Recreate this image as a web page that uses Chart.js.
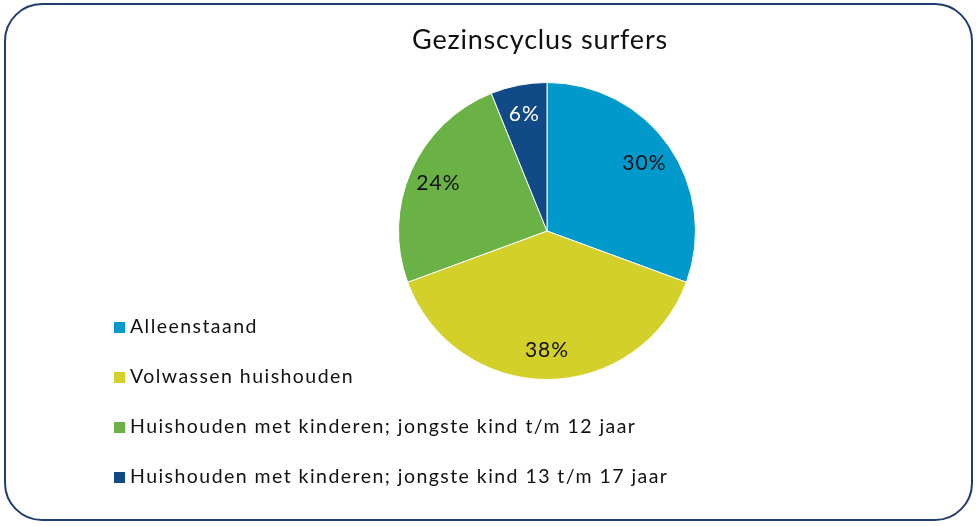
<!DOCTYPE html>
<html>
<head>
<meta charset="utf-8">
<script src="https://cdn.jsdelivr.net/npm/chart.js@4/dist/chart.umd.min.js"></script>
<style>
  html, body { margin:0; padding:0; background:#fff; }
  #wrap { position:relative; width:978px; height:526px; overflow:hidden; font-family: Lato, "Open Sans", sans-serif; }
  #frame { position:absolute; left:4px; top:3px; width:965px; height:514px; border:2.5px solid #1F3D6E; border-radius:38px; }
  #title { position:absolute; left:0; width:1080px; top:22px; text-align:center; font-size:27px; letter-spacing:0.8px; color:#111; }
  #c { position:absolute; left:0; top:0; }
  #legend { position:absolute; left:114px; top:314px; font-size:19.5px; letter-spacing:1.45px; color:#111; }
  .row { height:50px; display:flex; align-items:flex-start; }
  .sw { width:11px; height:11px; margin-right:5px; margin-top:8px; }
</style>
</head>
<body>
<div id="wrap">
  <div id="frame"></div>
  <canvas id="c" width="978" height="526"></canvas>
  <div id="title">Gezinscyclus surfers</div>
  <div id="legend"></div>
</div>
<script>
const categories = [
  "Alleenstaand",
  "Volwassen huishouden",
  "Huishouden met kinderen; jongste kind t/m 12 jaar",
  "Huishouden met kinderen; jongste kind 13 t/m 17 jaar"
];
const values = [30, 38, 24, 6];
const colors = ["#0099CC", "#D4D02A", "#6AB245", "#124A87"];
const labelColors = ["#111", "#111", "#111", "#fff"];

const labelPlugin = {
  id: 'sliceLabels',
  afterDatasetsDraw(chart) {
    const ctx = chart.ctx;
    const meta = chart.getDatasetMeta(0);
    ctx.save();
    ctx.font = '21px Lato, "Open Sans", sans-serif';
    if ('letterSpacing' in ctx) ctx.letterSpacing = '1px';
    ctx.textAlign = 'center';
    ctx.textBaseline = 'middle';
    meta.data.forEach((arc, i) => {
      const p = arc.getProps(['x','y','startAngle','endAngle','outerRadius'], true);
      const mid = (p.startAngle + p.endAngle) / 2;
      const r = p.outerRadius * 0.8;
      ctx.fillStyle = labelColors[i];
      ctx.fillText(values[i] + '%', p.x + Math.cos(mid) * r, p.y + Math.sin(mid) * r);
    });
    ctx.restore();
  }
};

const chart = new Chart(document.getElementById('c'), {
  type: 'pie',
  data: {
    labels: categories,
    datasets: [{ data: values, backgroundColor: colors, borderColor: '#ffffff', borderWidth: 1 }]
  },
  options: {
    responsive: false,
    animation: false,
    layout: { padding: { left: 398, right: 282, top: 82, bottom: 146 } },
    plugins: { legend: { display: false }, tooltip: { enabled: false }, title: { display: false } }
  },
  plugins: [labelPlugin]
});

const leg = document.getElementById('legend');
categories.forEach((c, i) => {
  const row = document.createElement('div');
  row.className = 'row';
  const sw = document.createElement('div');
  sw.className = 'sw';
  sw.style.background = colors[i];
  const t = document.createElement('span');
  t.textContent = c;
  row.appendChild(sw); row.appendChild(t);
  leg.appendChild(row);
});
</script>
</body>
</html>
